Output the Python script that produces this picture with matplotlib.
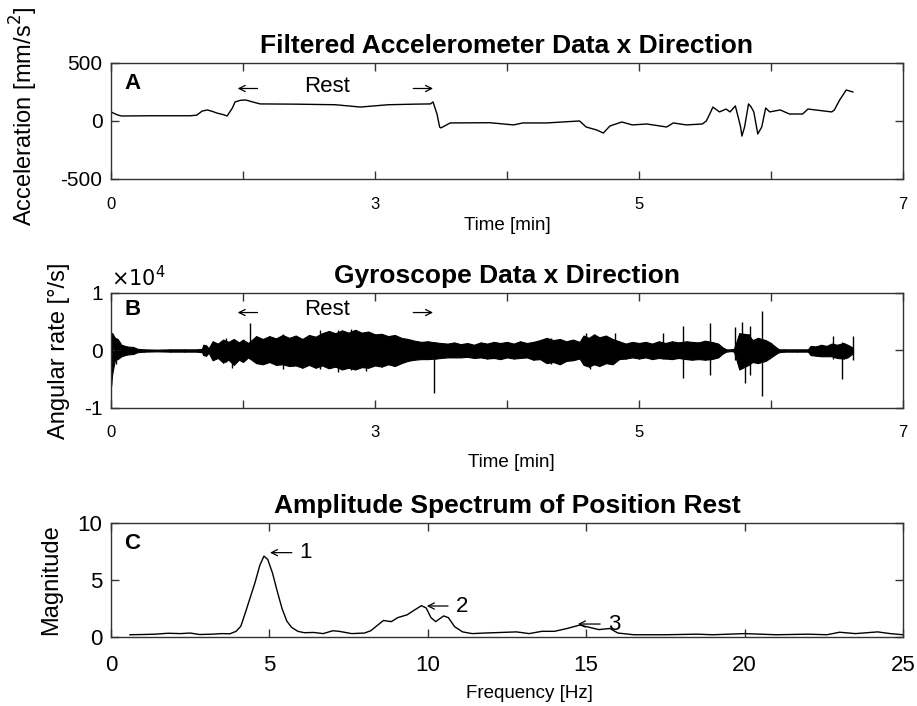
import matplotlib
matplotlib.use("Agg")
import matplotlib.pyplot as plt

plt.rcParams['font.family'] = ['Liberation Sans', 'DejaVu Sans']
plt.rcParams['axes.unicode_minus'] = False

# ---- panel A: filtered accelerometer (time in axis units, value mm/s^2)
acc_t = [0.00, 0.03, 0.05, 0.08, 0.30, 0.60, 0.65, 0.69, 0.73, 0.77, 0.80, 0.85, 0.88,
         0.92, 0.94, 0.98, 1.02, 1.07, 1.13, 1.40, 1.70, 1.89, 2.10, 2.30, 2.42,
         2.44, 2.47, 2.49, 2.50, 2.57, 2.87, 3.05, 3.12, 3.30, 3.55, 3.60, 3.68,
         3.73, 3.78, 3.87, 3.95, 4.06, 4.21, 4.26, 4.36, 4.48, 4.51, 4.54, 4.56,
         4.61, 4.66, 4.69, 4.73, 4.75, 4.77, 4.78, 4.80, 4.83, 4.85, 4.87, 4.90,
         4.93, 4.96, 4.99, 5.07, 5.14, 5.24, 5.28, 5.46, 5.48, 5.52, 5.57, 5.62]
acc_v = [78, 62, 52, 43, 45, 45, 50, 85, 95, 82, 69, 55, 43,
         112, 164, 178, 181, 165, 147, 145, 140, 120, 140, 145, 147,
         164, 60, -52, -60, -17, -15, -34, -17, -17, 0, -52, -78,
         -104, -43, -9, -34, -26, -52, -17, -34, -26, 0, 69, 120,
         78, 103, 78, 130, 40, -52, -130, -52, 147, 120, 78, -112,
         -52, 112, 78, 95, 60, 60, 103, 78, 95, 180, 267, 250]

# ---- panel B: gyroscope envelope (x1e4 deg/s)
gyro_t = [0.00, 0.01, 0.03, 0.05, 0.08, 0.12, 0.17, 0.20, 0.25, 0.35, 0.45, 0.55,
          0.65, 0.69, 0.70, 0.72, 0.74, 0.77, 0.81, 0.85, 0.89, 0.93, 0.97, 1.00,
          1.04, 1.10, 1.15, 1.20, 1.25, 1.30, 1.35, 1.40, 1.45, 1.50, 1.55, 1.60,
          1.65, 1.70, 1.75, 1.80, 1.85, 1.90, 1.95, 2.00, 2.05, 2.10, 2.15, 2.20,
          2.25, 2.30, 2.35, 2.40, 2.46, 2.50, 2.55, 2.60, 2.65, 2.70, 2.75, 2.80,
          2.85, 2.90, 2.95, 3.00, 3.05, 3.10, 3.15, 3.20, 3.25, 3.30, 3.35, 3.40,
          3.45, 3.50, 3.55, 3.58, 3.62, 3.66, 3.70, 3.75, 3.80, 3.85, 3.90, 3.95,
          4.00, 4.05, 4.10, 4.15, 4.20, 4.25, 4.30, 4.36, 4.40, 4.45, 4.50, 4.55,
          4.60, 4.63, 4.66, 4.70, 4.72, 4.76, 4.83, 4.86, 4.90, 4.96, 5.00, 5.03,
          5.06, 5.10, 5.20, 5.28, 5.30, 5.34, 5.38, 5.42, 5.46, 5.50, 5.55, 5.58,
          5.62]
gyro_hi = [0.31, 0.30, 0.22, 0.20, 0.10, 0.07, 0.06, 0.03, 0.02, 0.015, 0.02, 0.02,
           0.02, 0.03, 0.10, 0.09, 0.04, 0.16, 0.12, 0.19, 0.15, 0.20, 0.14, 0.19,
           0.13, 0.25, 0.20, 0.25, 0.21, 0.27, 0.22, 0.26, 0.20, 0.27, 0.24, 0.30,
           0.34, 0.30, 0.35, 0.31, 0.36, 0.31, 0.33, 0.28, 0.29, 0.25, 0.27, 0.22,
           0.20, 0.17, 0.15, 0.16, 0.14, 0.13, 0.12, 0.14, 0.11, 0.13, 0.10, 0.14,
           0.12, 0.15, 0.13, 0.15, 0.12, 0.16, 0.13, 0.15, 0.18, 0.22, 0.18, 0.20,
           0.16, 0.19, 0.15, 0.26, 0.22, 0.28, 0.23, 0.26, 0.20, 0.16, 0.12, 0.15,
           0.13, 0.15, 0.12, 0.16, 0.13, 0.16, 0.14, 0.16, 0.15, 0.14, 0.17, 0.15,
           0.12, 0.06, 0.02, 0.02, 0.03, 0.30, 0.28, 0.18, 0.22, 0.18, 0.13, 0.07,
           0.02, 0.02, 0.02, 0.02, 0.08, 0.07, 0.10, 0.08, 0.12, 0.10, 0.13, 0.10,
           0.05]
gyro_lo = [-0.62, -0.40, -0.16, -0.15, -0.10, -0.07, -0.06, -0.03, -0.02, -0.015, -0.02, -0.02,
           -0.02, -0.03, -0.08, -0.09, -0.04, -0.17, -0.13, -0.21, -0.16, -0.25, -0.16, -0.20,
           -0.12, -0.22, -0.24, -0.20, -0.25, -0.24, -0.27, -0.26, -0.30, -0.25, -0.30, -0.26,
           -0.31, -0.28, -0.33, -0.30, -0.33, -0.29, -0.30, -0.26, -0.28, -0.24, -0.27, -0.22,
           -0.18, -0.16, -0.15, -0.15, -0.14, -0.13, -0.12, -0.12, -0.12, -0.11, -0.13, -0.12,
           -0.14, -0.13, -0.15, -0.12, -0.14, -0.13, -0.12, -0.16, -0.15, -0.22, -0.20, -0.24,
           -0.18, -0.17, -0.14, -0.25, -0.28, -0.24, -0.27, -0.22, -0.24, -0.15, -0.14, -0.12,
           -0.14, -0.12, -0.15, -0.13, -0.14, -0.15, -0.13, -0.15, -0.16, -0.15, -0.16, -0.15,
           -0.12, -0.06, -0.02, -0.01, -0.02, -0.33, -0.25, -0.20, -0.22, -0.18, -0.12, -0.07,
           -0.03, -0.02, -0.02, -0.02, -0.08, -0.09, -0.10, -0.10, -0.10, -0.13, -0.14, -0.12,
           -0.05]
spike_t = [0.00, 0.04, 0.87, 0.92, 1.05, 1.30, 1.58, 1.72, 1.82, 1.93, 2.45, 3.33,
           3.60, 3.63, 3.82, 4.18, 4.33, 4.54, 4.73, 4.78, 4.80, 4.84, 4.93, 5.47,
           5.54, 5.62]
spike_hi = [0.31, 0.22, 0.22, 0.18, 0.48, 0.28, 0.36, 0.36, 0.37, 0.33, 0.14, 0.22,
            0.31, 0.20, 0.31, 0.31, 0.42, 0.48, 0.40, 0.50, 0.25, 0.42, 0.68, 0.25,
            0.15, 0.25]
spike_lo = [-0.62, -0.23, -0.20, -0.30, -0.15, -0.33, -0.32, -0.37, -0.34, -0.36, -0.74, -0.24,
            -0.25, -0.33, -0.20, -0.15, -0.47, -0.42, -0.17, -0.30, -0.56, -0.43, -0.80, -0.15,
            -0.50, -0.17]

# ---- panel C: amplitude spectrum
freq = [0.6, 1.0, 1.4, 1.8, 2.2, 2.5, 2.8, 3.2, 3.5, 3.75, 3.95, 4.1, 4.25, 4.4,
        4.55, 4.7, 4.83, 4.95, 5.1, 5.25, 5.4, 5.55, 5.7, 5.9, 6.1, 6.4, 6.7, 7.0,
        7.2, 7.6, 8.0, 8.2, 8.4, 8.6, 8.85, 9.05, 9.35, 9.6, 9.8, 9.95, 10.1, 10.25,
        10.5, 10.65, 10.85, 11.1, 11.4, 11.8, 12.3, 12.8, 13.2, 13.6, 14.0, 14.4,
        14.8, 15.1, 15.4, 15.75, 16.0, 16.5, 17.5, 18.5, 19.0, 20.0, 21.0, 22.0,
        22.6, 23.0, 23.5, 24.2, 24.6, 25.0]
mag = [0.2, 0.22, 0.25, 0.33, 0.3, 0.35, 0.22, 0.25, 0.3, 0.28, 0.5, 0.95, 2.2, 3.5,
       4.8, 6.3, 7.1, 6.8, 5.6, 4.0, 2.5, 1.4, 0.85, 0.5, 0.38, 0.4, 0.3, 0.55,
       0.5, 0.3, 0.35, 0.55, 1.0, 1.45, 1.35, 1.7, 1.95, 2.4, 2.75, 2.55, 1.7, 1.35,
       1.85, 1.7, 0.9, 0.45, 0.3, 0.35, 0.4, 0.45, 0.3, 0.5, 0.5, 0.75,
       1.05, 0.85, 0.65, 0.75, 0.35, 0.2, 0.2, 0.25, 0.2, 0.3, 0.2, 0.25,
       0.2, 0.42, 0.3, 0.45, 0.3, 0.2]
# peak markers: arrow tip, arrow tail, label position (Hz), magnitude
peak_tip = [5.02, 9.97, 14.74]
peak_tail = [5.71, 10.64, 15.44]
peak_txt = [6.15, 11.08, 15.90]
peak_m = [7.4, 2.72, 1.14]
peak_lbl = ['1', '2', '3']

# rest interval markers (time axis units)
rest_left = (1.11, 0.96)
rest_right = (2.29, 2.44)
rest_mid = 1.64

time_ticks = [0, 1, 2, 3, 4, 5, 6]
time_lbls = ['0', '', '3', '', '5', '', '7']

fig = plt.figure(figsize=(9.17, 7.06), dpi=100)
L, W = 0.121, 0.8637
axA = fig.add_axes([L, 0.7465, W, 0.1643])
axB = fig.add_axes([L, 0.4221, W, 0.1629])
axC = fig.add_axes([L, 0.0977, W, 0.1615])

edge = '#333333'
for ax in (axA, axB, axC):
    for s in ax.spines.values():
        s.set_color(edge)
        s.set_linewidth(1.0)
    ax.tick_params(direction='in', top=True, right=True, length=5.5,
                   width=1.0, color=edge)

arrow_kw = dict(arrowstyle='->', lw=0.9, color='black', mutation_scale=11,
                shrinkA=0, shrinkB=0)


def rest_marks(ax, y):
    ax.annotate('', xy=(rest_left[1], y), xytext=(rest_left[0], y),
                arrowprops=arrow_kw)
    ax.annotate('', xy=(rest_right[1], y), xytext=(rest_right[0], y),
                arrowprops=arrow_kw)


# A
axA.plot(acc_t, acc_v, color='black', lw=1.0)
axA.set_xlim(0, 6)
axA.set_ylim(-500, 500)
axA.set_yticks([-500, 0, 500])
axA.set_xticks(time_ticks)
axA.set_xticklabels(time_lbls)
axA.tick_params(axis='x', labelsize=12, pad=13)
axA.tick_params(axis='y', labelsize=15, pad=6)
axA.set_title('Filtered Accelerometer Data x Direction', fontsize=19,
              fontweight='bold', pad=7)
axA.set_ylabel('Acceleration [mm/s$^2$]', fontsize=17)
axA.yaxis.set_label_coords(-0.089, 0.54)
axA.set_xlabel('Time [min]', fontsize=13.5)
axA.xaxis.set_label_coords(0.5, -0.33)
axA.text(0.017, 0.91, 'A', transform=axA.transAxes, fontsize=16,
         fontweight='bold', va='top')
axA.text(rest_mid, 300, 'Rest', fontsize=16, ha='center', va='center')
rest_marks(axA, 280)

# B
axB.fill_between(gyro_t, gyro_lo, gyro_hi, color='black', lw=0.8)
axB.vlines(gyro_t, gyro_lo, gyro_hi, color='black', lw=0.8)
axB.vlines(spike_t, spike_lo, spike_hi, color='black', lw=1.0)
axB.set_xlim(0, 6)
axB.set_ylim(-1, 1)
axB.set_yticks([-1, 0, 1])
axB.set_xticks(time_ticks)
axB.set_xticklabels(time_lbls)
axB.tick_params(axis='x', labelsize=12, pad=12)
axB.tick_params(axis='y', labelsize=15, pad=6)
axB.set_title('Gyroscope Data x Direction', fontsize=19, fontweight='bold', pad=7)
axB.set_ylabel('Angular rate [\u00b0/s]', fontsize=17)
axB.yaxis.set_label_coords(-0.052, 0.5)
axB.set_xlabel('Time [min]', fontsize=13.5)
axB.xaxis.set_label_coords(0.506, -0.40)
axB.text(0.0, 1.02, r'$\times10^4$', transform=axB.transAxes, fontsize=15,
         va='bottom', ha='left')
axB.text(0.017, 0.95, 'B', transform=axB.transAxes, fontsize=16,
         fontweight='bold', va='top')
axB.text(rest_mid, 0.71, 'Rest', fontsize=16, ha='center', va='center')
rest_marks(axB, 0.66)

# C
axC.plot(freq, mag, color='black', lw=1.0)
axC.set_xlim(0, 25)
axC.set_ylim(0, 10)
axC.set_yticks([0, 5, 10])
axC.set_xticks([0, 5, 10, 15, 20, 25])
axC.tick_params(axis='both', labelsize=16)
axC.tick_params(axis='x', pad=13)
axC.tick_params(axis='y', pad=6)
axC.set_title('Amplitude Spectrum of Position Rest', fontsize=19,
              fontweight='bold', pad=7)
axC.set_ylabel('Magnitude', fontsize=17)
axC.yaxis.set_label_coords(-0.062, 0.5)
axC.set_xlabel('Frequency [Hz]', fontsize=13.5)
axC.xaxis.set_label_coords(0.529, -0.42)
axC.text(0.017, 0.91, 'C', transform=axC.transAxes, fontsize=16,
         fontweight='bold', va='top')
for tip, tail, tx, m, s in zip(peak_tip, peak_tail, peak_txt, peak_m, peak_lbl):
    axC.annotate('', xy=(tip, m), xytext=(tail, m), arrowprops=arrow_kw)
    axC.text(tx, m, s, fontsize=16, ha='center', va='center')

fig.savefig('out.png', dpi=100)
